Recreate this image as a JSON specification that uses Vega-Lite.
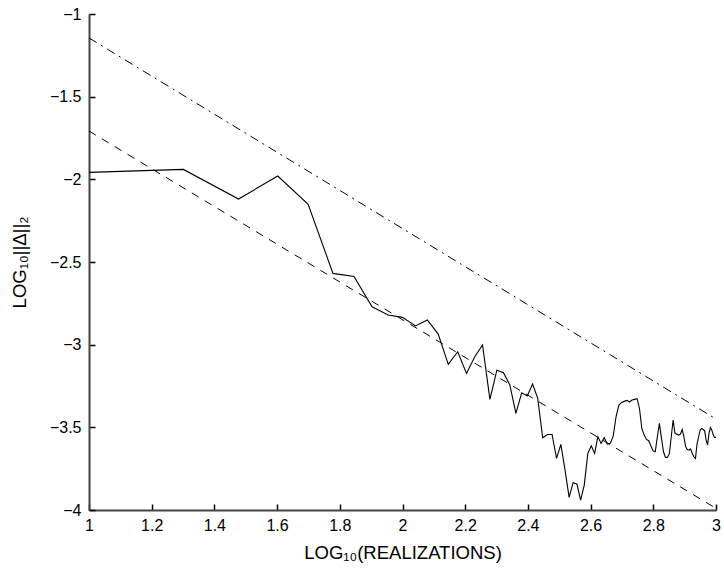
{
  "$schema": "https://vega.github.io/schema/vega-lite/v6.json",
  "width": 627,
  "height": 496,
  "autosize": "none",
  "padding": {"left": 89, "top": 14, "right": 8, "bottom": 62},
  "background": "white",
  "config": {
    "view": {"stroke": null},
    "font": "Liberation Sans",
    "axis": {
      "grid": false,
      "domainColor": "#444444",
      "domainWidth": 2,
      "tickColor": "#000000",
      "tickWidth": 1.5,
      "labelColor": "#000000",
      "labelFontSize": 16,
      "labelFont": "Liberation Sans",
      "titleFont": "Liberation Sans",
      "titleFontSize": 18.5,
      "titleFontWeight": "normal",
      "titleColor": "#000000",
      "labelFlush": false,
      "labelOverlap": false
    }
  },
  "datasets": {
    "err": [
      {"n": 10, "x": 1.0000, "y": -1.958},
      {"n": 20, "x": 1.3010, "y": -1.940},
      {"n": 30, "x": 1.4771, "y": -2.119},
      {"n": 40, "x": 1.6021, "y": -1.980},
      {"n": 50, "x": 1.6990, "y": -2.151},
      {"n": 60, "x": 1.7782, "y": -2.569},
      {"n": 70, "x": 1.8451, "y": -2.587},
      {"n": 80, "x": 1.9031, "y": -2.771},
      {"n": 90, "x": 1.9542, "y": -2.821},
      {"n": 100, "x": 2.0000, "y": -2.835},
      {"n": 110, "x": 2.0414, "y": -2.887},
      {"n": 120, "x": 2.0792, "y": -2.851},
      {"n": 130, "x": 2.1139, "y": -2.936},
      {"n": 140, "x": 2.1461, "y": -3.119},
      {"n": 150, "x": 2.1761, "y": -3.043},
      {"n": 160, "x": 2.2041, "y": -3.174},
      {"n": 170, "x": 2.2304, "y": -3.073},
      {"n": 180, "x": 2.2553, "y": -3.002},
      {"n": 190, "x": 2.2788, "y": -3.331},
      {"n": 200, "x": 2.3010, "y": -3.154},
      {"n": 210, "x": 2.3222, "y": -3.170},
      {"n": 220, "x": 2.3424, "y": -3.244},
      {"n": 230, "x": 2.3617, "y": -3.416},
      {"n": 240, "x": 2.3802, "y": -3.291},
      {"n": 250, "x": 2.3979, "y": -3.311},
      {"n": 260, "x": 2.4150, "y": -3.238},
      {"n": 270, "x": 2.4314, "y": -3.325},
      {"n": 280, "x": 2.4472, "y": -3.563},
      {"n": 290, "x": 2.4624, "y": -3.543},
      {"n": 300, "x": 2.4771, "y": -3.543},
      {"n": 310, "x": 2.4914, "y": -3.688},
      {"n": 320, "x": 2.5051, "y": -3.603},
      {"n": 330, "x": 2.5185, "y": -3.759},
      {"n": 340, "x": 2.5315, "y": -3.924},
      {"n": 350, "x": 2.5441, "y": -3.835},
      {"n": 360, "x": 2.5563, "y": -3.843},
      {"n": 370, "x": 2.5682, "y": -3.940},
      {"n": 380, "x": 2.5798, "y": -3.849},
      {"n": 390, "x": 2.5911, "y": -3.658},
      {"n": 400, "x": 2.6021, "y": -3.612},
      {"n": 410, "x": 2.6128, "y": -3.658},
      {"n": 420, "x": 2.6232, "y": -3.557},
      {"n": 430, "x": 2.6335, "y": -3.597},
      {"n": 440, "x": 2.6435, "y": -3.563},
      {"n": 450, "x": 2.6532, "y": -3.601},
      {"n": 460, "x": 2.6628, "y": -3.597},
      {"n": 470, "x": 2.6721, "y": -3.553},
      {"n": 480, "x": 2.6812, "y": -3.436},
      {"n": 490, "x": 2.6902, "y": -3.365},
      {"n": 500, "x": 2.6990, "y": -3.349},
      {"n": 510, "x": 2.7076, "y": -3.343},
      {"n": 520, "x": 2.7160, "y": -3.337},
      {"n": 530, "x": 2.7243, "y": -3.347},
      {"n": 540, "x": 2.7324, "y": -3.335},
      {"n": 550, "x": 2.7404, "y": -3.331},
      {"n": 560, "x": 2.7482, "y": -3.327},
      {"n": 570, "x": 2.7559, "y": -3.386},
      {"n": 580, "x": 2.7634, "y": -3.507},
      {"n": 590, "x": 2.7709, "y": -3.547},
      {"n": 600, "x": 2.7782, "y": -3.573},
      {"n": 610, "x": 2.7853, "y": -3.581},
      {"n": 620, "x": 2.7924, "y": -3.613},
      {"n": 630, "x": 2.7993, "y": -3.642},
      {"n": 640, "x": 2.8062, "y": -3.648},
      {"n": 650, "x": 2.8129, "y": -3.557},
      {"n": 660, "x": 2.8195, "y": -3.476},
      {"n": 670, "x": 2.8261, "y": -3.567},
      {"n": 680, "x": 2.8325, "y": -3.648},
      {"n": 690, "x": 2.8388, "y": -3.682},
      {"n": 700, "x": 2.8451, "y": -3.682},
      {"n": 710, "x": 2.8513, "y": -3.658},
      {"n": 720, "x": 2.8573, "y": -3.557},
      {"n": 730, "x": 2.8633, "y": -3.456},
      {"n": 740, "x": 2.8692, "y": -3.537},
      {"n": 750, "x": 2.8751, "y": -3.541},
      {"n": 760, "x": 2.8808, "y": -3.547},
      {"n": 770, "x": 2.8865, "y": -3.541},
      {"n": 780, "x": 2.8921, "y": -3.513},
      {"n": 790, "x": 2.8976, "y": -3.557},
      {"n": 800, "x": 2.9031, "y": -3.617},
      {"n": 810, "x": 2.9085, "y": -3.634},
      {"n": 820, "x": 2.9138, "y": -3.638},
      {"n": 830, "x": 2.9191, "y": -3.630},
      {"n": 840, "x": 2.9243, "y": -3.658},
      {"n": 850, "x": 2.9294, "y": -3.678},
      {"n": 860, "x": 2.9345, "y": -3.688},
      {"n": 870, "x": 2.9395, "y": -3.601},
      {"n": 880, "x": 2.9445, "y": -3.557},
      {"n": 890, "x": 2.9494, "y": -3.517},
      {"n": 900, "x": 2.9542, "y": -3.507},
      {"n": 910, "x": 2.9590, "y": -3.513},
      {"n": 920, "x": 2.9638, "y": -3.521},
      {"n": 930, "x": 2.9685, "y": -3.577},
      {"n": 940, "x": 2.9731, "y": -3.607},
      {"n": 950, "x": 2.9777, "y": -3.537},
      {"n": 960, "x": 2.9823, "y": -3.501},
      {"n": 970, "x": 2.9868, "y": -3.517},
      {"n": 980, "x": 2.9912, "y": -3.547},
      {"n": 990, "x": 2.9956, "y": -3.561},
      {"n": 1000, "x": 3.0000, "y": -3.561}
    ],
    "lower": [
      {"x": 1, "y": -1.708},
      {"x": 3, "y": -3.99}
    ],
    "upper": [
      {"x": 1, "y": -1.145},
      {"x": 3, "y": -3.45}
    ]
  },
  "resolve": {"axis": {"x": "independent", "y": "independent"}},
  "layer": [
    {
      "data": {"name": "upper"},
      "mark": {"type": "line", "color": "#000000", "strokeWidth": 1, "strokeDash": [9, 5, 2, 5]},
      "encoding": {
        "x": {
          "field": "x",
          "type": "quantitative",
          "scale": {"domain": [1, 3], "nice": false, "zero": false},
          "axis": {
            "orient": "bottom",
            "offset": -6,
            "values": [1, 1.2, 1.4, 1.6, 1.8, 2, 2.2, 2.4, 2.6, 2.8, 3],
            "domain": false,
            "labels": false,
            "title": null,
            "ticks": true,
            "tickSize": 6
          }
        },
        "y": {
          "field": "y",
          "type": "quantitative",
          "scale": {"domain": [-4, -1], "nice": false, "zero": false},
          "axis": {
            "orient": "left",
            "offset": -6,
            "values": [-4, -3.5, -3, -2.5, -2, -1.5, -1],
            "domain": false,
            "labels": false,
            "title": null,
            "ticks": true,
            "tickSize": 6
          }
        }
      }
    },
    {
      "data": {"name": "lower"},
      "mark": {"type": "line", "color": "#000000", "strokeWidth": 1, "strokeDash": [8, 7]},
      "encoding": {
        "x": {"field": "x", "type": "quantitative", "axis": null},
        "y": {"field": "y", "type": "quantitative", "axis": null}
      }
    },
    {
      "data": {"name": "err"},
      "mark": {"type": "line", "color": "#000000", "strokeWidth": 1.1},
      "encoding": {
        "x": {
          "field": "x",
          "type": "quantitative",
          "axis": {
            "orient": "bottom",
            "values": [1, 1.2, 1.4, 1.6, 1.8, 2, 2.2, 2.4, 2.6, 2.8, 3],
            "format": "~g",
            "title": "LOG₁₀(REALIZATIONS)",
            "ticks": false,
            "labelPadding": 7,
            "titlePadding": 10
          }
        },
        "y": {
          "field": "y",
          "type": "quantitative",
          "axis": {
            "orient": "left",
            "values": [-4, -3.5, -3, -2.5, -2, -1.5, -1],
            "format": "~g",
            "title": "LOG₁₀||Δ||₂",
            "ticks": false,
            "labelPadding": 8,
            "titlePadding": 20
          }
        }
      }
    }
  ]
}
